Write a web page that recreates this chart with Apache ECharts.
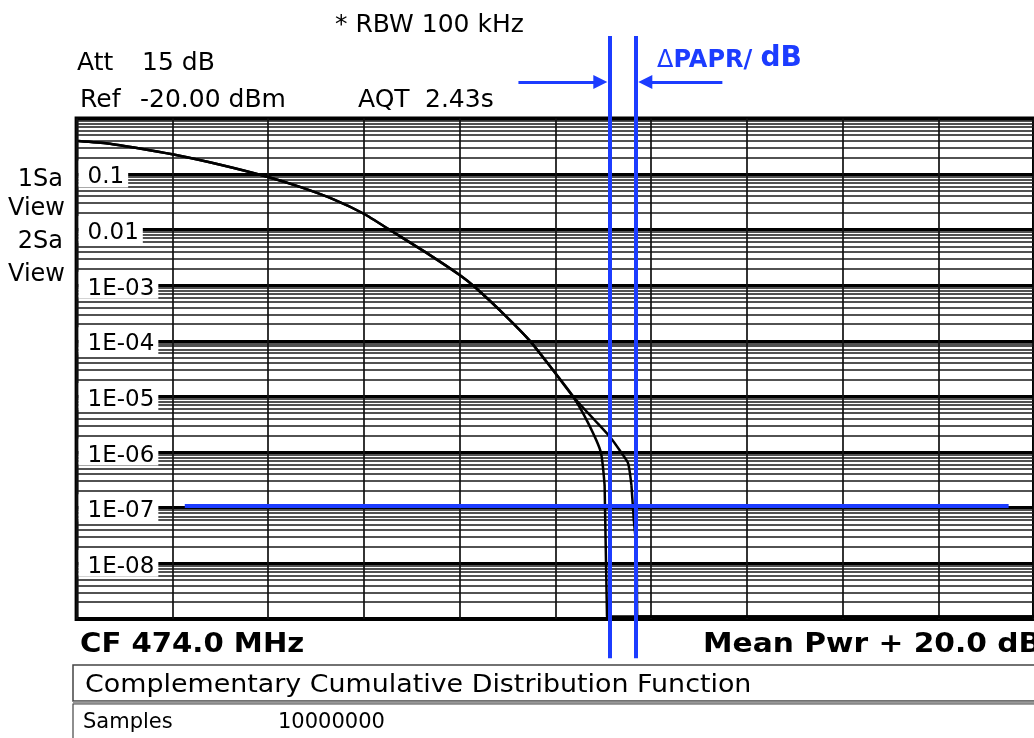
<!DOCTYPE html>
<html>
<head>
<meta charset="utf-8">
<script src="https://cdn.jsdelivr.net/npm/echarts@6/dist/echarts.min.js"></script>
<style>
html,body{margin:0;padding:0;background:#fff;}
#c{width:1034px;height:738px;}
</style>
</head>
<body>
<div id="c"></div>
<script>
// ---- data ----
// x: level above mean power in dB, y: complementary cumulative probability
const trace1Db   = [0.035, 0.65, 1.32, 2.0, 2.98, 3.98, 4.65, 5.38, 5.99, 6.59, 7.35, 8.01, 8.33, 8.95, 9.47, 9.91, 10.37, 10.69, 10.95, 11.03];
const trace1Ccdf = [0.392, 0.354, 0.288, 0.226, 0.148, 0.0893, 0.0592, 0.0347, 0.0195, 0.00933, 0.00363, 0.00151, 9.1e-4, 2.88e-4, 1.0e-4, 3.31e-5, 1.0e-5, 3.28e-6, 1.0e-6, 2.55e-7];
const trace1TailDb   = [11.03, 11.08, 20];
const trace1TailCcdf = [2.55e-7, 1.1e-9, 1.1e-9];

const trace2Db   = [0.035, 0.65, 1.32, 2.0, 2.98, 3.98, 4.65, 5.38, 5.99, 6.59, 7.35, 8.01, 8.33, 8.95, 9.47, 9.91, 10.37, 10.82, 11.14, 11.37, 11.52, 11.59];
const trace2Ccdf = [0.392, 0.354, 0.288, 0.226, 0.148, 0.0893, 0.0592, 0.0347, 0.0195, 0.00933, 0.00363, 0.00151, 9.1e-4, 2.88e-4, 1.0e-4, 3.31e-5, 1.0e-5, 3.77e-6, 1.88e-6, 1.0e-6, 6.3e-7, 2.55e-7];
const trace2TailDb   = [11.59, 11.64, 11.70, 11.71, 20];
const trace2TailCcdf = [2.55e-7, 6.0e-8, 1.74e-8, 1.1e-9, 1.1e-9];

const yTickExponents = [-1, -2, -3, -4, -5, -6, -7, -8];
const yTickLabels    = ['0.1', '0.01', '1E-03', '1E-04', '1E-05', '1E-06', '1E-07', '1E-08'];

// annotation positions (data units)
const paprMarkersDb  = [11.13, 11.69];
const markerSpanCcdf = [30.3, 1.97e-10];
const refLineDb      = [2.26, 19.47];
const refLineLevel   = 1.1e-7;
const arrowLevel     = 4.52;
const arrowLeftDb    = [9.23, 10.94];
const arrowRightDb   = [13.49, 11.88];

// ---- chart ----
const BLUE = '#1c3cff';
const FONT = 'DejaVu Sans';
const pairs = (xs, ys) => xs.map((x, i) => [x, ys[i]]);

const chart = echarts.init(document.getElementById('c'), null, {renderer: 'canvas', width: 1034, height: 738});

function txt(text, x, y, size, opts) {
  opts = opts || {};
  return {
    type: 'text', x: x, y: y, scaleX: opts.scaleX || 1, silent: true, z: 20,
    style: {
      text: text, x: 0, y: 0,
      fontFamily: FONT, fontSize: size, fontWeight: opts.bold ? 'bold' : 'normal',
      fill: opts.color || '#000',
      align: opts.align || 'left', verticalAlign: 'middle',
      textAlign: opts.align || 'left', textVerticalAlign: 'middle'
    }
  };
}

function curve(name, xs, ys, smooth) {
  return {type: 'line', name: name, data: pairs(xs, ys), showSymbol: false, symbol: 'none',
          smooth: smooth ? 0.2 : false,
          lineStyle: {color: '#000', width: 2.5}, z: 3, silent: true};
}

const option = {
  animation: false,
  backgroundColor: '#fff',
  grid: {left: 76.6, top: 118.4, width: 961, height: 500.5, show: true, borderColor: '#000', borderWidth: 4, backgroundColor: 'transparent'},
  xAxis: {
    type: 'value', min: 0, max: 20, interval: 2,
    axisLine: {show: false}, axisTick: {show: false}, axisLabel: {show: false},
    splitLine: {show: true, lineStyle: {color: '#111', width: 1.7}}
  },
  yAxis: {
    type: 'log', logBase: 10, min: 1e-9, max: 1,
    axisLine: {show: false}, axisTick: {show: false},
    splitLine: {show: true, lineStyle: {color: '#000', width: 3}},
    minorTick: {show: false, splitNumber: 9},
    minorSplitLine: {show: true, lineStyle: {color: '#1a1a1a', width: 1.5}},
    axisLabel: {
      inside: true, margin: 2, showMinLabel: false, showMaxLabel: false,
      backgroundColor: '#fff', padding: [9, 4, 2, 9],
      rich: {t: {fontFamily: FONT, fontSize: 23, color: '#000', lineHeight: 16}},
      formatter: function (v) {
        const e = Math.round(Math.log10(v));
        const i = yTickExponents.indexOf(e);
        return i >= 0 ? '{t|' + yTickLabels[i] + '}' : '';
      }
    }
  },
  series: [
    curve('1Sa', trace1Db, trace1Ccdf, true),
    curve('1Sa tail', trace1TailDb, trace1TailCcdf, false),
    curve('2Sa', trace2Db, trace2Ccdf, true),
    curve('2Sa tail', trace2TailDb, trace2TailCcdf, false),
    {type: 'lines', coordinateSystem: 'cartesian2d', clip: false, z: 6, silent: true,
     symbol: ['none', 'none'],
     lineStyle: {color: BLUE, width: 4, opacity: 1},
     data: [
       {coords: [[paprMarkersDb[0], markerSpanCcdf[0]], [paprMarkersDb[0], markerSpanCcdf[1]]]},
       {coords: [[paprMarkersDb[1], markerSpanCcdf[0]], [paprMarkersDb[1], markerSpanCcdf[1]]]},
       {coords: [[refLineDb[0], refLineLevel], [refLineDb[1], refLineLevel]]}
     ]},
    {type: 'lines', coordinateSystem: 'cartesian2d', clip: false, z: 6, silent: true,
     symbol: ['none', 'triangle'], symbolSize: [14, 14],
     lineStyle: {color: BLUE, width: 3, opacity: 1},
     data: [
       {coords: [[arrowLeftDb[0], arrowLevel], [arrowLeftDb[1], arrowLevel]]},
       {coords: [[arrowRightDb[0], arrowLevel], [arrowRightDb[1], arrowLevel]]}
     ]}
  ],
  graphic: [
    txt('* RBW 100 kHz', 335, 25, 25),
    txt('Att', 77, 63, 25),
    txt('15 dB', 142, 63, 25),
    txt('Ref', 80, 100, 25),
    txt('-20.00 dBm', 140, 100, 25),
    txt('AQT', 358, 100, 25),
    txt('2.43s', 425, 100, 25),
    txt('1Sa', 63, 180, 24, {align: 'right'}),
    txt('View', 65, 209, 24, {align: 'right'}),
    txt('2Sa', 63, 242, 24, {align: 'right'}),
    txt('View', 65, 275, 24, {align: 'right'}),
    {
      type: 'text', x: 657, y: 58, silent: true, z: 20,
      style: {
        text: '{a|\u0394}{b|PAPR/ }{c|dB}',
        align: 'left', verticalAlign: 'middle',
        rich: {
          a: {fontFamily: FONT, fontSize: 24, fontWeight: 'normal', fill: BLUE, color: BLUE, lineHeight: 30, verticalAlign: 'bottom'},
          b: {fontFamily: FONT, fontSize: 24, fontWeight: 'bold', fill: BLUE, color: BLUE, lineHeight: 30, verticalAlign: 'bottom'},
          c: {fontFamily: FONT, fontSize: 28, fontWeight: 'bold', fill: BLUE, color: BLUE, lineHeight: 30, verticalAlign: 'bottom'}
        }
      }
    },
    txt('CF 474.0 MHz', 80, 645, 27, {bold: true, scaleX: 1.08}),
    txt('Mean Pwr + 20.0 dB', 703, 645, 27, {bold: true, scaleX: 1.1}),
    {type: 'rect', silent: true, z: 15, shape: {x: 73, y: 665, width: 1000, height: 36},
     style: {fill: '#fff', stroke: '#444', lineWidth: 1.5}},
    {type: 'line', silent: true, z: 15, shape: {x1: 73, y1: 702.5, x2: 1040, y2: 702.5},
     style: {stroke: '#999', lineWidth: 2}},
    {type: 'rect', silent: true, z: 15, shape: {x: 73, y: 704, width: 1000, height: 60},
     style: {fill: '#fff', stroke: '#444', lineWidth: 1.2}},
    txt('Complementary Cumulative Distribution Function', 85, 686, 24, {scaleX: 1.12}),
    txt('Samples', 83, 723, 21),
    txt('10000000', 278, 723, 21)
  ]
};
chart.setOption(option);
</script>
</body>
</html>
